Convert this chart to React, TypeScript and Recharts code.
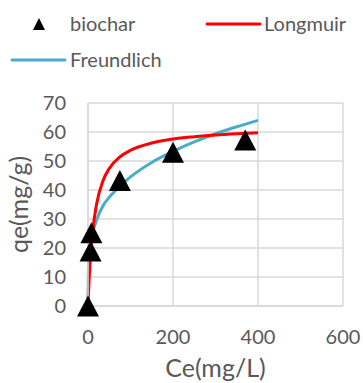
import { CartesianGrid, ComposedChart, Label, Line, Scatter, XAxis, YAxis } from "recharts";

// measured points
const ceMeasured = [0, 6, 8, 75, 200, 370];
const qeMeasured = [0, 19, 25.3, 43.3, 53, 57.2];

// fitted curves
const ceFit = [0, 1, 5, 10, 20, 35, 50, 75, 100, 150, 200, 250, 300, 350, 400];
const qeLangmuir = [0, 3.8, 15.2, 24.4, 35, 43.1, 47.4, 51.4, 53.7, 56.2, 57.6, 58.4, 59, 59.4, 59.7];
const qeFreundlich = [0, 13, 20, 24.5, 29.5, 34.5, 37.5, 41.3, 44.5, 49.5, 53.3, 56.6, 59.4, 61.8, 64];

const xTicks = [0, 200, 400, 600];
const yTicks = [0, 10, 20, 30, 40, 50, 60, 70];

const biochar = ceMeasured.map((ce, i) => ({ ce, qe: qeMeasured[i] }));
const langmuir = ceFit.map((ce, i) => ({ ce, qe: qeLangmuir[i] }));
const freundlich = ceFit.map((ce, i) => ({ ce, qe: qeFreundlich[i] }));

const font = "Lato, 'Open Sans', sans-serif";
const textColor = "#595959";

function Triangle(props: any) {
  const { cx, cy } = props;
  const w = 22;
  const h = 21;
  return (
    <polygon
      points={`${cx},${cy - h / 2} ${cx + w / 2},${cy + h / 2} ${cx - w / 2},${cy + h / 2}`}
      fill="#000"
    />
  );
}

function ChartLegend() {
  const label = { position: "absolute" as const, fontSize: 20, color: textColor, fontFamily: font, lineHeight: "20px" };
  return (
    <>
      <svg style={{ position: "absolute", left: 0, top: 0 }} width={363} height={80}>
        <polygon points="39,18 45,30 33,30" fill="#000" />
        <line x1={207} y1={24} x2={260} y2={24} stroke="#ff0000" strokeWidth={3} strokeLinecap="round" />
        <line x1={12} y1={60} x2={65} y2={60} stroke="#4bacc6" strokeWidth={3} strokeLinecap="round" />
      </svg>
      <div style={{ ...label, left: 70, top: 13 }}>biochar</div>
      <div style={{ ...label, left: 264, top: 13 }}>Longmuir</div>
      <div style={{ ...label, left: 70, top: 49 }}>Freundlich</div>
    </>
  );
}

export default function App() {
  return (
    <div style={{ position: "absolute", left: 0, top: 0, width: 363, height: 383, background: "#fff", overflow: "hidden" }}>
      <ComposedChart width={363} height={383} margin={{ top: 103, right: 20, left: 0, bottom: 0 }}>
        <CartesianGrid stroke="#d9d9d9" strokeWidth={1.5} />
        <XAxis
          type="number"
          dataKey="ce"
          domain={[0, 600]}
          ticks={xTicks}
          height={77}
          axisLine={{ stroke: "#d9d9d9", strokeWidth: 1.5 }}
          tickLine={false}
          tickSize={0}
          tickMargin={24}
          tick={{ fill: textColor, fontSize: 20, fontFamily: font }}
        >
          <Label value="Ce(mg/L)" position="insideBottom" offset={6} fill={textColor} fontSize={25} fontFamily={font} />
        </XAxis>
        <YAxis
          type="number"
          dataKey="qe"
          domain={[0, 70]}
          ticks={yTicks}
          width={88}
          axisLine={{ stroke: "#d9d9d9", strokeWidth: 1.5 }}
          tickLine={false}
          tickSize={0}
          tickMargin={22}
          tick={{ fill: textColor, fontSize: 20, fontFamily: font }}
        >
          <Label
            value="qe(mg/g)"
            angle={-90}
            position="insideLeft"
            offset={19}
            fill={textColor}
            fontSize={25}
            fontFamily={font}
            style={{ textAnchor: "middle" }}
          />
        </YAxis>
        <Line data={freundlich} dataKey="qe" type="monotone" stroke="#4bacc6" strokeWidth={3} dot={false} isAnimationActive={false} />
        <Line data={langmuir} dataKey="qe" type="monotone" stroke="#ff0000" strokeWidth={3} dot={false} isAnimationActive={false} />
        <Scatter data={biochar} dataKey="qe" shape={<Triangle />} isAnimationActive={false} />
      </ComposedChart>
      <ChartLegend />
    </div>
  );
}
